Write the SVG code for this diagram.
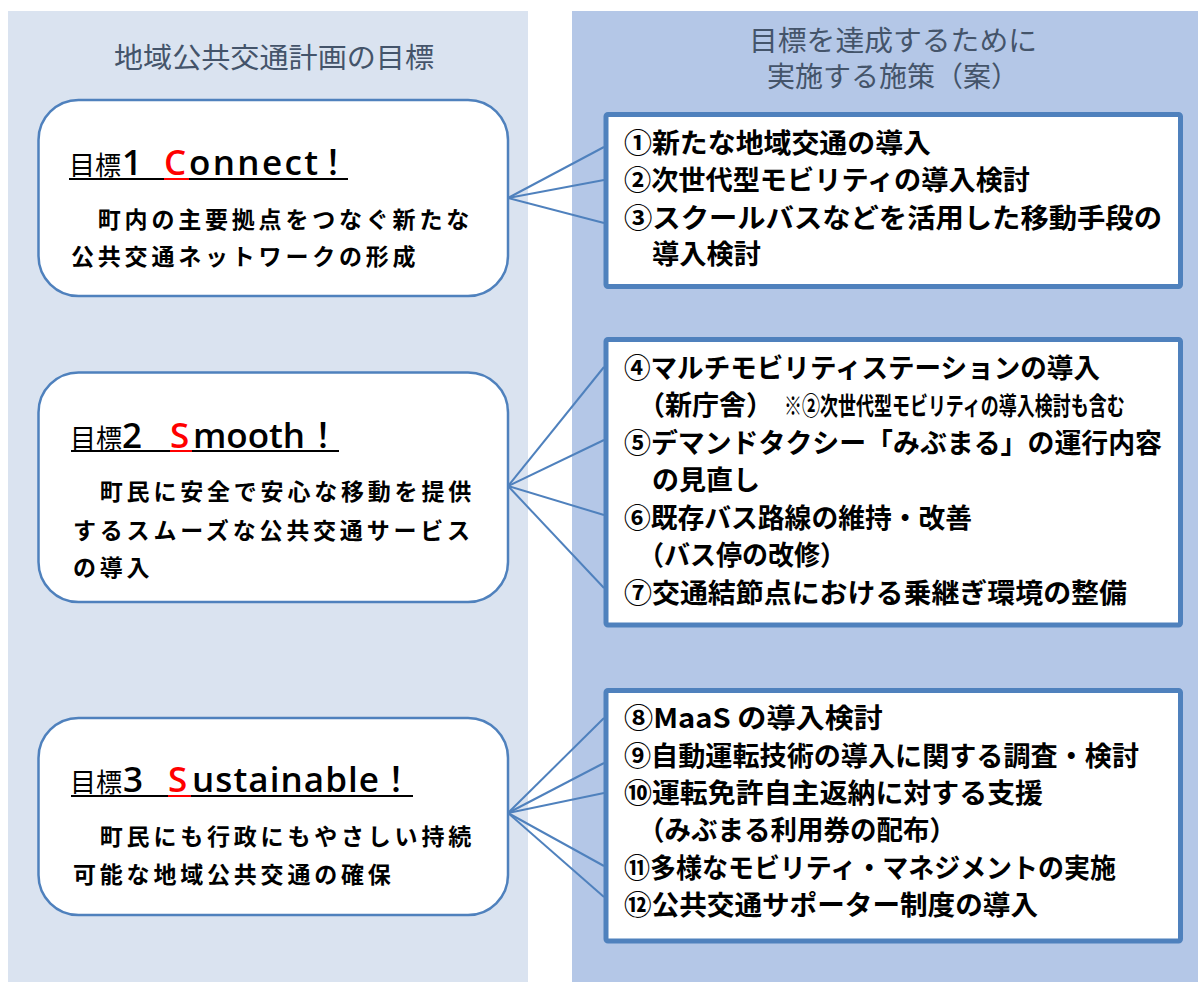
<svg xmlns="http://www.w3.org/2000/svg" width="1198" height="982" viewBox="0 0 1198 982">
<style>
.hdr{font-family:"Noto Sans CJK JP","Noto Sans",sans-serif;font-size:28px;fill:#44546A}
.goalbox{fill:#FFFFFF;stroke:#4F81BD;stroke-width:2.5}
.mbox{fill:#FFFFFF;stroke:#4F81BD;stroke-width:5}
.jp{font-family:"Noto Sans CJK JP",sans-serif;fill:#000}
.mk{font-size:26px}
.bang{font-size:34px;font-weight:500}
.lat{font-family:"Open Sans","Noto Sans","Noto Sans CJK JP",sans-serif;font-size:35px;font-weight:600;fill:#000}
.red{fill:#FF0000}
.body{font-family:"Noto Sans CJK JP",sans-serif;font-size:23px;font-weight:700;letter-spacing:3.8px;fill:#000}
.item{font-family:"Noto Sans CJK JP",sans-serif;font-size:27px;font-weight:700;fill:#000}
.note{font-family:"Noto Sans CJK JP",sans-serif;font-size:25px;font-weight:700;fill:#000}
.conn line{stroke:#4F81BD;stroke-width:2}
</style>
<rect x="0" y="0" width="1198" height="982" fill="#FFFFFF"/>
<g id="panel-left">
<rect x="8" y="11" width="520" height="971" fill="#DAE3F0"/>
<text class="hdr" x="274" y="68" text-anchor="middle" textLength="320" lengthAdjust="spacingAndGlyphs">地域公共交通計画の目標</text>
</g>
<g id="panel-right">
<rect x="572" y="11" width="626" height="971" fill="#B4C7E7"/>
<text class="hdr" x="893" y="51" text-anchor="middle" textLength="288" lengthAdjust="spacingAndGlyphs">目標を達成するために</text>
<text class="hdr" x="893" y="87" text-anchor="middle">実施する施策（案）</text>
</g>
<g id="connectors" class="conn">
<line x1="508" y1="198" x2="604" y2="147"/>
<line x1="508" y1="198" x2="604" y2="180"/>
<line x1="508" y1="198" x2="604" y2="223"/>
<line x1="508" y1="486" x2="604" y2="367"/>
<line x1="508" y1="486" x2="604" y2="440"/>
<line x1="508" y1="486" x2="604" y2="515"/>
<line x1="508" y1="486" x2="604" y2="588"/>
<line x1="508" y1="813" x2="604" y2="718"/>
<line x1="508" y1="813" x2="604" y2="763"/>
<line x1="508" y1="813" x2="604" y2="793"/>
<line x1="508" y1="813" x2="604" y2="866"/>
<line x1="508" y1="813" x2="604" y2="897"/>
</g>
<g id="goal1">
<rect class="goalbox" x="38.5" y="100" width="469.5" height="196" rx="40"/>
<text class="jp mk" x="69" y="175">目標</text>
<text class="lat" x="122" y="175">1</text>
<text class="lat red" x="164" y="175">C</text>
<text class="lat" x="189" y="175" textLength="129" lengthAdjust="spacing">onnect</text>
<text class="jp bang" x="316" y="175">！</text>
<line x1="69" y1="179" x2="348" y2="179" stroke="#000" stroke-width="2"/>
<line x1="164" y1="179" x2="189" y2="179" stroke="#FF0000" stroke-width="2"/>
<text class="body" x="71" y="228">　町内の主要拠点をつなぐ新たな</text>
<text class="body" x="71" y="265">公共交通ネットワークの形成</text>
</g>
<g id="goal2">
<rect class="goalbox" x="38.5" y="372.5" width="469.5" height="229.5" rx="40"/>
<text class="jp mk" x="70" y="448">目標</text>
<text class="lat" x="122" y="448">2</text>
<text class="lat red" x="170" y="448">S</text>
<text class="lat" x="193" y="448" textLength="112" lengthAdjust="spacing">mooth</text>
<text class="jp bang" x="306" y="448">！</text>
<line x1="71" y1="451" x2="339" y2="451" stroke="#000" stroke-width="2"/>
<line x1="170" y1="451" x2="192" y2="451" stroke="#FF0000" stroke-width="2"/>
<text class="body" x="73" y="500">　町民に安全で安心な移動を提供</text>
<text class="body" x="73" y="539">するスムーズな公共交通サービス</text>
<text class="body" x="73" y="576">の導入</text>
</g>
<g id="goal3">
<rect class="goalbox" x="38.5" y="718" width="469.5" height="197" rx="40"/>
<text class="jp mk" x="70" y="792">目標</text>
<text class="lat" x="123" y="792">3</text>
<text class="lat red" x="168" y="792">S</text>
<text class="lat" x="192" y="792" textLength="187" lengthAdjust="spacing">ustainable</text>
<text class="jp bang" x="379" y="792">！</text>
<line x1="71" y1="796" x2="413" y2="796" stroke="#000" stroke-width="2"/>
<line x1="168" y1="796" x2="191" y2="796" stroke="#FF0000" stroke-width="2"/>
<text class="body" x="73" y="845">　町民にも行政にもやさしい持続</text>
<text class="body" x="73" y="883">可能な地域公共交通の確保</text>
</g>
<g id="measures1">
<rect class="mbox" x="606" y="114.5" width="574.5" height="172" rx="2"/>
<text class="item" x="624" y="153" textLength="307" lengthAdjust="spacingAndGlyphs">①新たな地域交通の導入</text>
<text class="item" x="624" y="190" textLength="406" lengthAdjust="spacingAndGlyphs">②次世代型モビリティの導入検討</text>
<text class="item" x="624" y="228" textLength="538" lengthAdjust="spacingAndGlyphs">③スクールバスなどを活用した移動手段の</text>
<text class="item" x="652" y="264" textLength="109" lengthAdjust="spacingAndGlyphs">導入検討</text>
</g>
<g id="measures2">
<rect class="mbox" x="606" y="339.5" width="574.5" height="285.5" rx="2"/>
<text class="item" x="624" y="378" textLength="476" lengthAdjust="spacingAndGlyphs">④マルチモビリティステーションの導入</text>
<text class="item" x="638" y="415">（新庁舎）</text>
<text class="note" transform="translate(784,415) scale(0.72,1)" x="0" y="0">※②次世代型モビリティの導入検討も含む</text>
<text class="item" x="624" y="453" textLength="538" lengthAdjust="spacingAndGlyphs">⑤デマンドタクシー「みぶまる」の運行内容</text>
<text class="item" x="652" y="490">の見直し</text>
<text class="item" x="624" y="528" textLength="348" lengthAdjust="spacingAndGlyphs">⑥既存バス路線の維持・改善</text>
<text class="item" x="638" y="565" textLength="208" lengthAdjust="spacingAndGlyphs">（バス停の改修）</text>
<text class="item" x="624" y="603" textLength="503" lengthAdjust="spacingAndGlyphs">⑦交通結節点における乗継ぎ環境の整備</text>
</g>
<g id="measures3">
<rect class="mbox" x="606" y="690.5" width="574.5" height="250.5" rx="2"/>
<text class="item" x="624" y="728" textLength="259" lengthAdjust="spacingAndGlyphs">⑧MaaS の導入検討</text>
<text class="item" x="624" y="766" textLength="515" lengthAdjust="spacingAndGlyphs">⑨自動運転技術の導入に関する調査・検討</text>
<text class="item" x="624" y="803" textLength="419" lengthAdjust="spacingAndGlyphs">⑩運転免許自主返納に対する支援</text>
<text class="item" x="638" y="840" textLength="318" lengthAdjust="spacingAndGlyphs">（みぶまる利用券の配布）</text>
<text class="item" x="624" y="878" textLength="492" lengthAdjust="spacingAndGlyphs">⑪多様なモビリティ・マネジメントの実施</text>
<text class="item" x="624" y="915" textLength="414" lengthAdjust="spacingAndGlyphs">⑫公共交通サポーター制度の導入</text>
</g>
</svg>
